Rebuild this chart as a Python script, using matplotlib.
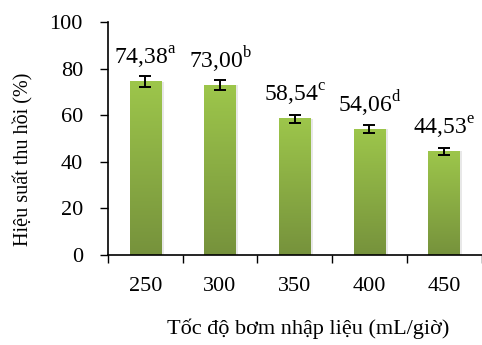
import numpy as np
import matplotlib
matplotlib.use('Agg')
from matplotlib import pyplot as plt
from matplotlib.colors import LinearSegmentedColormap

# Data
speeds = ['250', '300', '350', '400', '450']
recovery = [74.38, 73.00, 58.54, 54.06, 44.53]
errors = [2.4, 2.3, 1.7, 1.7, 1.4]
letters = ['a', 'b', 'c', 'd', 'e']

plt.rcParams['font.family'] = ['Liberation Serif', 'DejaVu Serif']
plt.rcParams['mathtext.fontset'] = 'custom'
plt.rcParams['mathtext.rm'] = 'Liberation Serif'

fig = plt.figure(figsize=(4.82, 3.45), dpi=100)
ax = fig.add_axes([0.224, 0.261, 0.775, 0.675])

x = np.arange(len(speeds))
bars = ax.bar(x, recovery, width=0.42, color='none', zorder=2)

# vertical gradient fill for each bar
green = LinearSegmentedColormap.from_list('g', ['#76923c', '#9dc64b'])
grad = np.linspace(0, 1, 256).reshape(-1, 1)
for b in bars:
    x0, w, h = b.get_x(), b.get_width(), b.get_height()
    ax.imshow(grad, cmap=green, origin='lower', aspect='auto',
              extent=[x0, x0 + w, 0, h], zorder=1)
    # soft shadow on the right side
    ax.bar(x0 + w, h, width=0.035, align='edge', color='#e8e8e8', zorder=0.5)

ax.errorbar(x, recovery, yerr=errors, fmt='none', ecolor='black',
            elinewidth=1.4, capsize=4, capthick=1.4, zorder=3)

for xi, v, l in zip(x, recovery, letters):
    txt = f'{v:.2f}'.replace('.', ',') + r'$^\mathrm{' + l + '}$'
    ax.annotate(txt, (xi, v), xytext=(0, 12), textcoords='offset points',
                ha='center', va='baseline', fontsize=17)

ax.set_xlim(-0.5, len(speeds) - 0.5)
ax.set_ylim(0, 100)
ax.set_yticks(range(0, 101, 20))
ax.set_xticks(x)
ax.set_xticklabels(speeds)
ax.set_xticks(np.arange(-0.5, len(speeds)), minor=True)
ax.tick_params(axis='x', which='major', length=0, labelsize=16, pad=16)
ax.tick_params(axis='x', which='minor', length=6, width=1, direction='out')
ax.tick_params(axis='y', length=6, width=1, direction='out', labelsize=16, pad=12)

for s in ['top', 'right']:
    ax.spines[s].set_visible(False)
for s in ['left', 'bottom']:
    ax.spines[s].set_linewidth(1.2)

ax.set_ylabel('Hiệu suất thu hồi (%)', fontsize=14.5)
ax.yaxis.set_label_coords(-0.2, 0.41)
ax.set_xlabel('Tốc độ bơm nhập liệu (mL/giờ)', fontsize=16)
ax.xaxis.set_label_coords(0.537, -0.275)

fig.savefig('out.png', dpi=100)
